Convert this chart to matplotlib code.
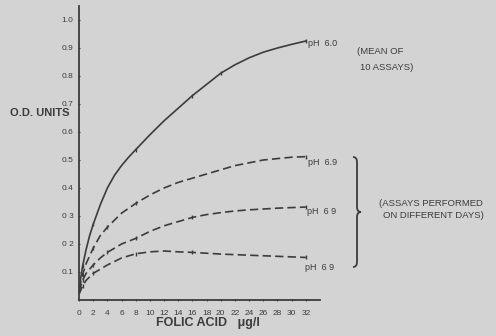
import matplotlib
matplotlib.use("Agg")
import matplotlib.pyplot as plt
from matplotlib.path import Path
from matplotlib.patches import PathPatch

# data
x_solid = [0, 0.25, 0.5, 1, 1.5, 2, 3, 4, 5, 6, 7, 8, 10, 12, 14, 16, 18, 20, 22, 24, 26, 28, 30, 32]
y_solid = [0.03, 0.08, 0.12, 0.18, 0.23, 0.27, 0.34, 0.40, 0.445, 0.48, 0.51, 0.537, 0.59, 0.64, 0.685, 0.73, 0.77, 0.81, 0.84, 0.865, 0.885, 0.90, 0.913, 0.925]

x_d1 = [0, 0.5, 1, 2, 3, 4, 6, 8, 10, 12, 14, 16, 18, 20, 22, 24, 26, 28, 30, 32]
y_d1 = [0.04, 0.09, 0.13, 0.185, 0.23, 0.26, 0.31, 0.345, 0.375, 0.40, 0.42, 0.435, 0.45, 0.465, 0.48, 0.49, 0.50, 0.505, 0.51, 0.512]

x_d2 = [0, 0.5, 1, 2, 3, 4, 6, 8, 10, 12, 14, 16, 18, 20, 22, 24, 26, 28, 30, 32]
y_d2 = [0.03, 0.07, 0.095, 0.125, 0.15, 0.17, 0.2, 0.22, 0.245, 0.265, 0.28, 0.295, 0.305, 0.312, 0.318, 0.322, 0.325, 0.328, 0.33, 0.332]

x_d3 = [0, 0.5, 1, 2, 3, 4, 6, 8, 10, 12, 14, 16, 18, 20, 22, 24, 26, 28, 30, 32]
y_d3 = [0.02, 0.05, 0.07, 0.095, 0.11, 0.125, 0.15, 0.165, 0.172, 0.175, 0.172, 0.17, 0.167, 0.164, 0.162, 0.16, 0.158, 0.156, 0.154, 0.152]

x_ticks = list(range(0, 33, 2))
x_tick_labels = ["0"] + [str(v) for v in range(2, 33, 2)]
y_ticks = [0.1, 0.2, 0.3, 0.4, 0.5, 0.6, 0.7, 0.8, 0.9, 1.0]
y_tick_labels = ["0.1", "0 2", "0 3", "0.4", "0.5", "0.6", "0.7", "0.8", "0.9", "1.0"]

bg = "#d3d3d3"
ink = "#3c3c3c"
fam = ["Liberation Sans Narrow", "Liberation Sans", "DejaVu Sans"]

fig = plt.figure(figsize=(4.96, 3.36), dpi=100, facecolor=bg)
W, H = 496, 336
ax = fig.add_axes([79 / W, 36 / H, 241 / W, 294 / H])
ax.set_facecolor(bg)
ax.set_xlim(0, 34)
ax.set_ylim(0, 1.05)

ax.plot(x_solid, y_solid, color=ink, lw=1.2, ls="-", marker="|", ms=3, markevery=[2, 5, 11, 15, 17, 23])
dash = (0, (5, 2.5))
ax.plot(x_d1, y_d1, color=ink, lw=1.2, ls=dash, marker="|", ms=3, markevery=[1, 3, 5, 7, 19])
ax.plot(x_d2, y_d2, color=ink, lw=1.2, ls=dash, marker="|", ms=3, markevery=[1, 3, 5, 7, 11, 19])
ax.plot(x_d3, y_d3, color=ink, lw=1.2, ls=dash, marker="|", ms=3, markevery=[1, 3, 7, 11, 19])

for s in ["top", "right"]:
    ax.spines[s].set_visible(False)
for s in ["left", "bottom"]:
    ax.spines[s].set_color(ink)
    ax.spines[s].set_linewidth(1.3)

ax.set_xticks(x_ticks)
ax.set_xticklabels(x_tick_labels, fontsize=6, color=ink, family=fam)
ax.set_yticks(y_ticks)
ax.set_yticklabels(y_tick_labels, fontsize=6, color=ink, family=fam)
ax.tick_params(axis="both", direction="inout", length=2, width=0.8, color=ink, pad=3)
ax.tick_params(axis="x", pad=6)

fig.text(156 / W, 1 - 323 / H, "FOLIC ACID   μg/l", fontsize=9, color=ink, family=fam,
         fontweight="bold", va="center", ha="left")

fig.text(10 / W, 1 - 113 / H, "O.D. UNITS", fontsize=8, color=ink, family=fam,
         fontweight="bold", va="center", ha="left")

def lab(px, py, s, size=6.5):
    fig.text(px / W, 1 - py / H, s, fontsize=size, color=ink, family=fam, va="center", ha="left")

lab(308, 43, "pH  6.0")
lab(357, 51, "(MEAN OF", 6.8)
lab(360, 67, "10 ASSAYS)", 6.8)
lab(308, 162, "pH  6.9")
lab(307, 212, "pH  6 9")
lab(305, 267, "pH  6 9")
lab(379, 203, "(ASSAYS PERFORMED", 6.8)
lab(383, 216, "ON DIFFERENT DAYS)", 6.8)

# right brace drawn in pixel coordinates
def P(px, py):
    return (px / W, 1 - py / H)

verts = [P(353, 157), P(357, 157), P(357, 162), P(357, 162),
         P(357, 207), P(357, 212), P(361, 212), P(357, 212),
         P(357, 217), P(357, 217), P(357, 262), P(357, 267), P(353, 267)]
codes = [Path.MOVETO, Path.CURVE3, Path.CURVE3, Path.LINETO,
         Path.LINETO, Path.CURVE3, Path.CURVE3, Path.CURVE3,
         Path.CURVE3, Path.LINETO, Path.LINETO, Path.CURVE3, Path.CURVE3]
brace = PathPatch(Path(verts, codes), transform=fig.transFigure, fill=False,
                  edgecolor=ink, lw=1.3)
fig.add_artist(brace)

fig.savefig("out.png", dpi=100, facecolor=bg)
